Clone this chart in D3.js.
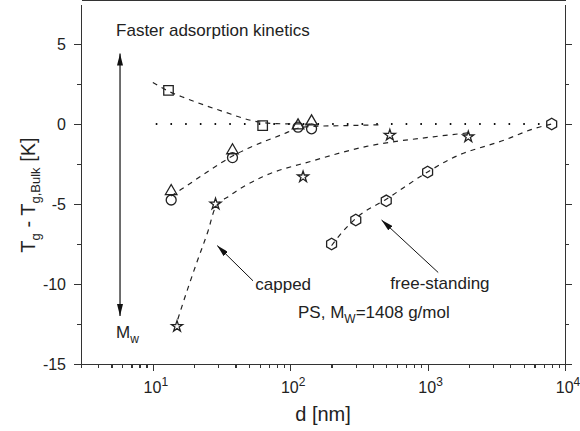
<!DOCTYPE html>
<meta charset="utf-8">
<style>
body { margin: 0; background: #fff; }
svg { display: block; }
text { font-family: "Liberation Sans", Arial, sans-serif; fill: #222; }
.axis path, .axis line { stroke: #333; stroke-width: 1.2; shape-rendering: crispEdges; }
.fit { fill: none; stroke: #222; stroke-width: 1.2; stroke-dasharray: 5,5; }
.ref { fill: none; stroke: #111; stroke-width: 2; stroke-dasharray: 1.6,13.1; }
.mark { fill: none; stroke: #222; stroke-width: 1.3; }
</style>
<svg width="580" height="431"></svg>
<script src="https://d3js.org/d3.v7.min.js"></script>
<script>

// measured points (d in nm, Tg - Tg,bulk in K)
var squareD = [13, 63],            squareT = [2.1, -0.1];
var triD    = [13.6, 38, 114, 143], triT    = [-4.2, -1.65, -0.1, 0.15];
var circD   = [13.6, 38, 114, 143], circT   = [-4.75, -2.1, -0.2, -0.3];
var starD   = [15, 28.6, 124, 531, 1977], starT = [-12.65, -5.0, -3.3, -0.7, -0.8];
var hexD    = [200, 300, 500, 1000, 8000], hexT = [-7.5, -6.0, -4.8, -3.0, 0.0];

// dashed guide curves
var fitSqD = [10, 13, 17.5, 32, 57, 80, 140],          fitSqT = [2.6, 2.05, 1.6, 0.8, 0.15, 0.02, 0];
var fitTriD = [13.6, 16, 27, 38, 50, 89, 115, 145, 250, 450],
    fitTriT = [-4.5, -4.1, -2.8, -2.0, -1.5, -0.63, -0.25, -0.15, -0.1, -0.05];
var fitStarD = [15.2, 16, 20.7, 25.2, 28.6, 36, 63, 146, 360, 1100, 2000],
    fitStarT = [-12.2, -11.6, -8.75, -6.7, -5.2, -4.5, -3.3, -2.3, -1.4, -0.8, -0.55];
var fitHexD = [200, 217, 300, 500, 1000, 1455, 3770, 5900, 8000],
    fitHexT = [-7.6, -7.2, -5.9, -4.7, -3.0, -2.2, -0.95, -0.3, 0];
var refD = [10.5, 8000], refT = [0, 0];

var xMajor = [10, 100, 1000, 10000];
var xMinor = [3,4,5,6,7,8,9,20,30,40,50,60,70,80,90,200,300,400,500,600,700,800,900,2000,3000,4000,5000,6000,7000,8000,9000];
var yMajor = [-15, -10, -5, 0, 5];
var yMinor = [-12.5, -7.5, -2.5, 2.5];

var svg = d3.select("svg"),
    margin = {top: 4, right: 15, bottom: 67, left: 81},
    W = +svg.attr("width"), H = +svg.attr("height");

var x = d3.scaleLog().domain([3, 10000]).range([margin.left, W - margin.right]);
var y = d3.scaleLinear().domain([-15, 7.5]).range([H - margin.bottom, margin.top]);

function zip(a, b) { return a.map(function(d, i) { return [d, b[i]]; }); }

var line = d3.line()
    .x(function(d) { return x(d[0]); })
    .y(function(d) { return y(d[1]); })
    .curve(d3.curveMonotoneX);

// axes: outward on left/bottom, inward mirrors on top/right
function addAxis(gen, vals, size, tr) {
  svg.append("g").attr("class", "axis").attr("transform", tr)
    .call(gen.tickValues(vals).tickSize(size).tickSizeOuter(0).tickFormat(""));
}
var bot = "translate(0," + y.range()[0] + ")", top = "translate(0," + y.range()[1] + ")";
var lft = "translate(" + x.range()[0] + ",0)", rgt = "translate(" + x.range()[1] + ",0)";
addAxis(d3.axisBottom(x), xMajor, 7, bot);
addAxis(d3.axisBottom(x), xMinor, 4, bot);
addAxis(d3.axisBottom(x), xMajor, -7, top);
addAxis(d3.axisBottom(x), xMinor, -4, top);
addAxis(d3.axisLeft(y), yMajor, 7, lft);
addAxis(d3.axisLeft(y), yMinor, 4, lft);
addAxis(d3.axisLeft(y), yMajor, -7, rgt);
addAxis(d3.axisLeft(y), yMinor, -4, rgt);

// tick labels
xMajor.forEach(function(v) {
  var t = svg.append("text").attr("x", x(v) + 3).attr("y", 393)
      .attr("text-anchor", "middle").style("font-size", "16px");
  t.append("tspan").text("10");
  t.append("tspan").attr("dy", -7).style("font-size", "12px").text(Math.round(Math.log10(v)));
});
yMajor.forEach(function(v) {
  svg.append("text").attr("x", x.range()[0] - 15).attr("y", y(v)).attr("dy", "0.35em")
      .attr("text-anchor", "end").style("font-size", "16px").text(v);
});

// axis titles
svg.append("text").attr("x", 323).attr("y", 421).attr("text-anchor", "middle")
    .style("font-size", "20px").text("d [nm]");
var yl = svg.append("text").attr("transform", "translate(35,195) rotate(-90)")
    .attr("text-anchor", "middle").style("font-size", "20px");
yl.append("tspan").text("T");
yl.append("tspan").attr("dy", 5).style("font-size", "13px").text("g");
yl.append("tspan").attr("dy", -5).text(" - T");
yl.append("tspan").attr("dy", 5).style("font-size", "13px").text("g,Bulk");
yl.append("tspan").attr("dy", -5).text(" [K]");

// reference and guide curves
svg.append("path").attr("class", "ref").attr("d", line(zip(refD, refT)));
[[fitSqD, fitSqT], [fitTriD, fitTriT], [fitStarD, fitStarT], [fitHexD, fitHexT]].forEach(function(f) {
  svg.append("path").attr("class", "fit").attr("d", line(zip(f[0], f[1])));
});

// markers
var hexagon = { draw: function(ctx, size) {
  var r = Math.sqrt(size / 2.598);
  for (var i = 0; i < 6; i++) {
    var a = Math.PI / 6 + i * Math.PI / 3;
    if (i === 0) ctx.moveTo(r * Math.cos(a), r * Math.sin(a));
    else ctx.lineTo(r * Math.cos(a), r * Math.sin(a));
  }
  ctx.closePath();
}};
function drawMarks(ds, ts, type, size) {
  svg.append("g").selectAll("path").data(zip(ds, ts)).enter().append("path")
      .attr("class", "mark")
      .attr("transform", function(d) { return "translate(" + x(d[0]) + "," + y(d[1]) + ")"; })
      .attr("d", d3.symbol().type(type).size(size));
}
drawMarks(circD, circT, d3.symbolCircle, 78);
drawMarks(triD, triT, d3.symbolTriangle, 58);
drawMarks(squareD, squareT, d3.symbolSquare, 90);
drawMarks(starD, starT, d3.symbolStar, 38);
drawMarks(hexD, hexT, hexagon, 85);

// annotations
var defs = svg.append("defs");
defs.append("marker").attr("id", "ah").attr("viewBox", "0 0 12 6").attr("refX", 12).attr("refY", 3)
    .attr("markerWidth", 12).attr("markerHeight", 6).attr("markerUnits", "userSpaceOnUse")
    .attr("orient", "auto-start-reverse")
  .append("path").attr("d", "M0,0L12,3L0,6Z").attr("fill", "#111");

svg.append("line").attr("x1", x(5.77)).attr("x2", x(5.77)).attr("y1", y(4.4)).attr("y2", y(-12.0))
    .attr("stroke", "#111").attr("stroke-width", 1.2)
    .attr("marker-start", "url(#ah)").attr("marker-end", "url(#ah)");

svg.append("line").attr("x1", x(53.6)).attr("y1", y(-9.8)).attr("x2", x(29.4)).attr("y2", y(-7.6))
    .attr("stroke", "#111").attr("stroke-width", 1).attr("marker-end", "url(#ah)");
svg.append("line").attr("x1", x(1194)).attr("y1", y(-9.28)).attr("x2", x(462)).attr("y2", y(-6.0))
    .attr("stroke", "#111").attr("stroke-width", 1).attr("marker-end", "url(#ah)");

svg.append("text").attr("x", x(5.4)).attr("y", y(5.52)).style("font-size", "17px")
    .text("Faster adsorption kinetics");
svg.append("text").attr("x", x(55.7)).attr("y", y(-10.35)).style("font-size", "17px").text("capped");
svg.append("text").attr("x", x(1230)).attr("y", y(-10.3)).attr("text-anchor", "middle")
    .style("font-size", "17px").text("free-standing");

var ps = svg.append("text").attr("x", x(114)).attr("y", y(-12.1)).style("font-size", "17px");
ps.append("tspan").text("PS, M");
ps.append("tspan").attr("dy", 5).style("font-size", "12px").text("W");
ps.append("tspan").attr("dy", -5).text("=1408 g/mol");

var mw = svg.append("text").attr("x", x(5.4)).attr("y", y(-13.4)).style("font-size", "17px");
mw.append("tspan").text("M");
mw.append("tspan").attr("dy", 5).style("font-size", "12px").text("w");

</script>
